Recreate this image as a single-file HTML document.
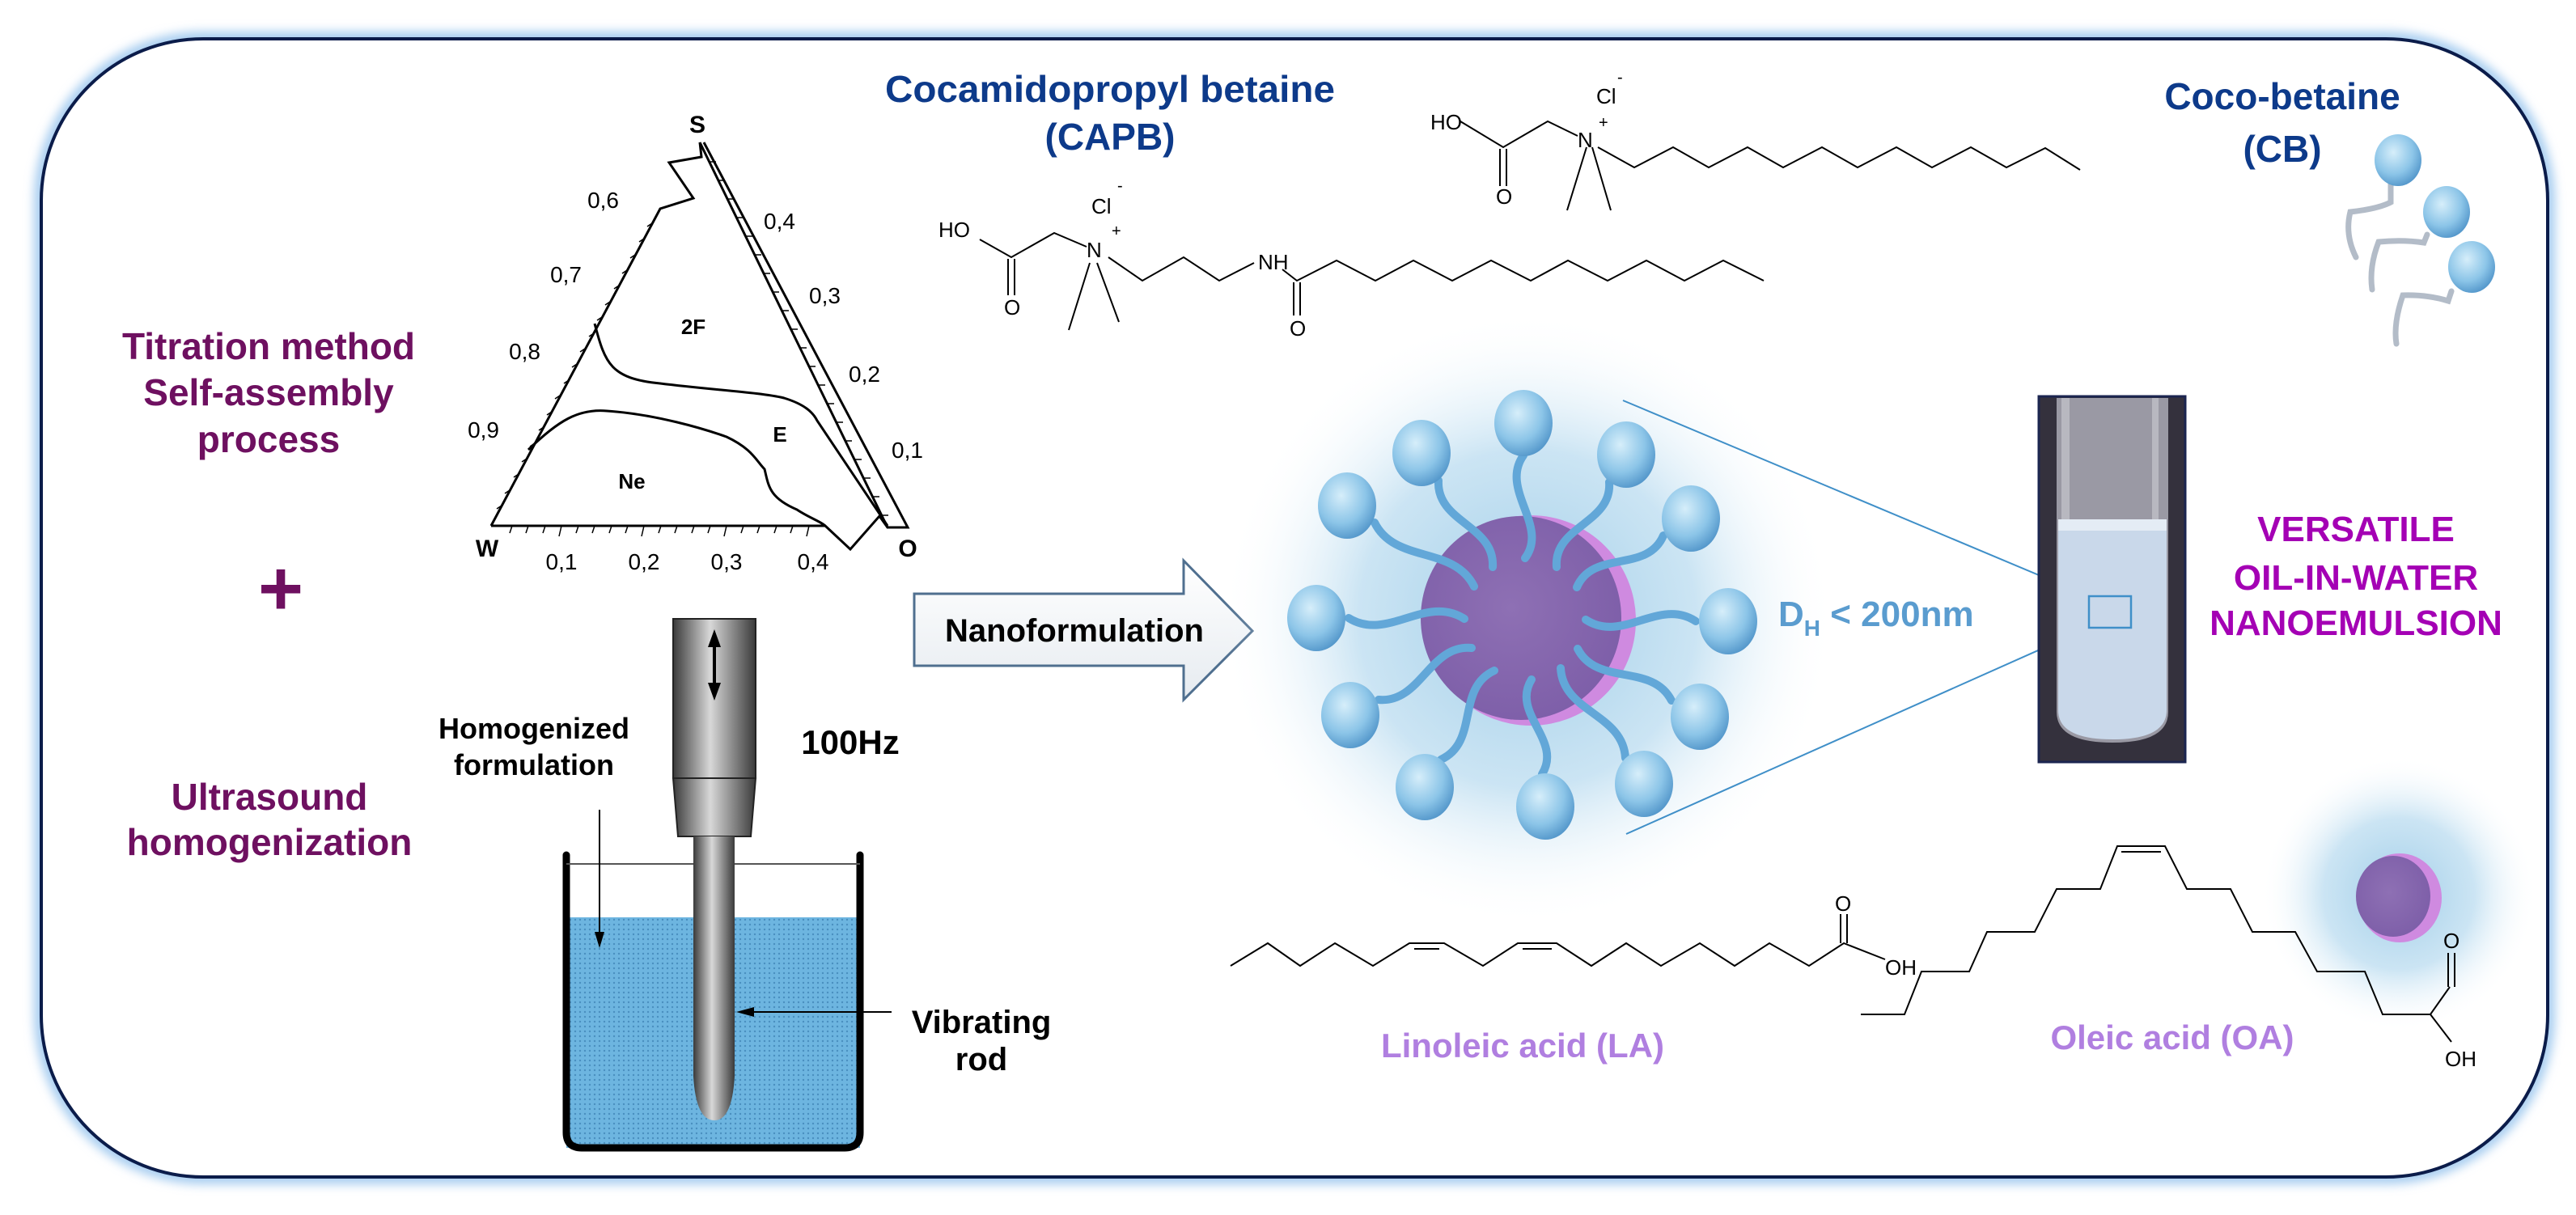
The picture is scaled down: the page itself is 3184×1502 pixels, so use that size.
<!DOCTYPE html>
<html><head><meta charset="utf-8"><style>
html,body{margin:0;padding:0;background:#fff;}
svg{display:block;}
text{font-family:"Liberation Sans",Arial,sans-serif;}
</style></head><body>
<svg width="3184" height="1502" viewBox="0 0 3184 1502" xmlns="http://www.w3.org/2000/svg">
<defs>
<radialGradient id="glow" cx="50%" cy="50%" r="50%">
<stop offset="0" stop-color="#8fc4e4" stop-opacity="0.85"/>
<stop offset="0.55" stop-color="#a9d3ec" stop-opacity="0.6"/>
<stop offset="1" stop-color="#ffffff" stop-opacity="0"/>
</radialGradient>
<radialGradient id="head" cx="40%" cy="35%" r="70%">
<stop offset="0" stop-color="#d6eefa"/>
<stop offset="0.6" stop-color="#8cc5e8"/>
<stop offset="1" stop-color="#4f93c8"/>
</radialGradient>
<radialGradient id="core" cx="45%" cy="45%" r="60%">
<stop offset="0" stop-color="#8e70b4"/>
<stop offset="1" stop-color="#7d5ea8"/>
</radialGradient>
<linearGradient id="metal" x1="0" x2="1" y1="0" y2="0">
<stop offset="0" stop-color="#3a3a3a"/>
<stop offset="0.45" stop-color="#d8d8d8"/>
<stop offset="1" stop-color="#3a3a3a"/>
</linearGradient>
<linearGradient id="arrowfill" x1="0" x2="0" y1="0" y2="1">
<stop offset="0" stop-color="#ffffff"/>
<stop offset="1" stop-color="#e6ebf0"/>
</linearGradient>
<pattern id="dots" width="6" height="6" patternUnits="userSpaceOnUse">
<rect width="6" height="6" fill="#6db5e0"/>
<circle cx="3" cy="3" r="1.2" fill="#4a8fc0"/>
</pattern>
<filter id="blur" x="-20%" y="-20%" width="140%" height="140%"><feGaussianBlur stdDeviation="6"/></filter>
</defs>

<!-- frame -->
<rect x="51" y="48" width="3098" height="1407" rx="200" ry="200" fill="none" stroke="#a7cdf0" stroke-width="18" filter="url(#blur)"/>
<rect x="51" y="48" width="3098" height="1407" rx="200" ry="200" fill="#fff" stroke="#0b1c4a" stroke-width="4"/>

<!-- Left texts -->
<g font-weight="bold" fill="#6e1060" font-size="46" text-anchor="middle">
<text x="332" y="444">Titration method</text>
<text x="332" y="501">Self-assembly</text>
<text x="332" y="559">process</text>
<text x="333" y="1001">Ultrasound</text>
<text x="333" y="1057">homogenization</text>
</g>
<text x="347" y="760" font-size="96" font-weight="bold" fill="#6e1060" text-anchor="middle">+</text>

<!-- Ternary diagram -->
<g stroke="#000" stroke-width="3" fill="none">
<path d="M607 650 L816 258 L857 245 L827 201 L867 194 L865 176"/>
<path d="M865 176 L1097 652 L1122 652 L870 176"/>
<path d="M607 650 L1020 650 L1051 679 L1087 638 L1097 652"/>
<path d="M735 400 C748 450 755 468 816 474 C880 482 940 485 969 492 C995 500 1005 510 1010 520 L1097 650"/>
<path d="M653 556 C690 520 715 505 750 508 C810 512 870 530 898 540 C930 555 935 570 945 580 C950 600 950 615 985 630 C1000 640 1015 645 1020 650"/>
</g>
<g stroke="#000" stroke-width="1.5">
<path d="M620 625 l-6 4 M630 606 l-6 4 M641 586 l-6 4 M651 567 l-6 4 M661 548 l-6 4 M672 528 l-6 4 M682 509 l-6 4 M692 489 l-6 4 M703 470 l-6 4 M713 450 l-6 4 M723 431 l-6 4 M734 412 l-6 4 M744 392 l-6 4 M754 373 l-6 4 M765 353 l-6 4 M775 334 l-6 4 M785 315 l-6 4 M796 295 l-6 4 M806 276 l-6 4"/>
<path d="M877 200 l8 0 M888 223 l8 0 M899 246 l8 0 M910 269 l8 0 M922 292 l8 0 M933 315 l8 0 M944 338 l8 0 M955 361 l8 0 M967 384 l8 0 M978 407 l8 0 M989 430 l8 0 M1000 453 l8 0 M1012 476 l8 0 M1023 499 l8 0 M1034 522 l8 0 M1045 545 l8 0 M1057 568 l8 0 M1068 591 l8 0 M1079 614 l8 0 M1090 637 l8 0"/>
<path d="M633 650 l-3 9 M653 650 l-3 9 M674 650 l-3 9 M694 650 l-3 13 M715 650 l-3 9 M735 650 l-3 9 M756 650 l-3 9 M776 650 l-3 9 M796 650 l-3 13 M817 650 l-3 9 M837 650 l-3 9 M858 650 l-3 9 M878 650 l-3 9 M898 650 l-3 13 M919 650 l-3 9 M939 650 l-3 9 M960 650 l-3 9 M980 650 l-3 9 M1000 650 l-3 13"/>
</g>
<g font-size="28" fill="#000">
<text x="765" y="257" text-anchor="end">0,6</text>
<text x="719" y="349" text-anchor="end">0,7</text>
<text x="668" y="444" text-anchor="end">0,8</text>
<text x="617" y="541" text-anchor="end">0,9</text>
<text x="944" y="283">0,4</text>
<text x="1000" y="375">0,3</text>
<text x="1049" y="472">0,2</text>
<text x="1102" y="566">0,1</text>
<text x="694" y="704" text-anchor="middle">0,1</text>
<text x="796" y="704" text-anchor="middle">0,2</text>
<text x="898" y="704" text-anchor="middle">0,3</text>
<text x="1005" y="704" text-anchor="middle">0,4</text>
</g>
<g font-size="30" font-weight="bold" fill="#000" text-anchor="middle">
<text x="862" y="164">S</text>
<text x="602" y="688">W</text>
<text x="1122" y="688">O</text>
<text x="857" y="413" font-size="26">2F</text>
<text x="964" y="546" font-size="26">E</text>
<text x="781" y="604" font-size="26">Ne</text>
</g>

<!-- Sonicator -->
<rect x="700" y="1134" width="363" height="285" fill="url(#dots)"/>
<path d="M700 1057 L700 1400 Q700 1419 719 1419 L1044 1419 Q1063 1419 1063 1400 L1063 1057" fill="none" stroke="#000" stroke-width="9" stroke-linecap="round"/>
<line x1="700" y1="1068" x2="1063" y2="1068" stroke="#555" stroke-width="2"/>
<rect x="832" y="765" width="102" height="197" fill="url(#metal)" stroke="#222" stroke-width="2"/>
<path d="M832 962 L934 962 L928 1034 L838 1034 Z" fill="url(#metal)" stroke="#222" stroke-width="2"/>
<path d="M857 1034 L908 1034 L908 1330 Q905 1385 883 1385 Q860 1385 857 1330 Z" fill="url(#metal)"/>
<path d="M883 778 L875 800 L891 800 Z M883 866 L875 844 L891 844 Z" fill="#000"/>
<line x1="883" y1="795" x2="883" y2="850" stroke="#000" stroke-width="4"/>
<line x1="741" y1="1001" x2="741" y2="1160" stroke="#000" stroke-width="2"/>
<path d="M741 1172 L735 1152 L747 1152 Z" fill="#000"/>
<line x1="925" y1="1251" x2="1102" y2="1251" stroke="#000" stroke-width="2"/>
<path d="M910 1251 L932 1245 L932 1257 Z" fill="#000"/>
<g font-weight="bold" fill="#000" text-anchor="middle">
<text x="660" y="913" font-size="36">Homogenized</text>
<text x="660" y="958" font-size="36">formulation</text>
<text x="1051" y="932" font-size="42">100Hz</text>
<text x="1213" y="1277" font-size="40">Vibrating</text>
<text x="1213" y="1323" font-size="40">rod</text>
</g>

<!-- Nanoformulation arrow -->
<path d="M1130 734 L1463 734 L1463 693 L1548 780 L1463 865 L1463 823 L1130 823 Z" fill="url(#arrowfill)" stroke="#4f6f8f" stroke-width="3"/>
<text x="1328" y="793" font-size="40" font-weight="bold" text-anchor="middle" fill="#000">Nanoformulation</text>

<!-- titles -->
<g font-weight="bold" fill="#0d3a8a" font-size="46" text-anchor="middle">
<text x="1372" y="126" textLength="556" lengthAdjust="spacingAndGlyphs">Cocamidopropyl betaine</text>
<text x="1372" y="185">(CAPB)</text>
<text x="2821" y="135">Coco-betaine</text>
<text x="2821" y="200">(CB)</text>
</g>

<!-- CAPB structure -->
<g stroke="#000" stroke-width="2" fill="none">
<path d="M1211 296 L1250 318 L1303 288 L1343 305"/>
<path d="M1246 320 L1246 365 M1254 320 L1254 365"/>
<path d="M1347 325 L1321 408 M1356 325 L1383 398"/>
<path d="M1370 318 L1412 347 L1463 318 L1507 347 L1550 325"/>
<path d="M1585 333 L1603 347 L1652 322 L1700 347 L1747 322 L1795 347 L1843 322 L1892 347 L1938 322 L1987 347 L2035 322 L2082 347 L2130 322 L2180 347"/>
<path d="M1599 349 L1599 390 M1607 349 L1607 390"/>
</g>
<g font-size="26" fill="#000">
<text x="1160" y="293">HO</text>
<text x="1343" y="318">N</text>
<text x="1374" y="292" font-size="20">+</text>
<text x="1349" y="264">Cl</text>
<text x="1381" y="236" font-size="20">-</text>
<text x="1555" y="333">NH</text>
<text x="1594" y="415">O</text>
<text x="1241" y="389">O</text>
</g>

<!-- CB structure -->
<g stroke="#000" stroke-width="2" fill="none">
<path d="M1805 150 L1858 182 L1913 150 L1950 168"/>
<path d="M1854 184 L1854 230 M1862 184 L1862 230"/>
<path d="M1961 182 L1937 260 M1968 182 L1991 260"/>
<path d="M1975 182 L2020 207 L2068 182 L2112 207 L2160 182 L2204 207 L2252 182 L2296 207 L2344 182 L2388 207 L2436 182 L2480 207 L2528 183 L2571 210"/>
</g>
<g font-size="26" fill="#000">
<text x="1768" y="160">HO</text>
<text x="1950" y="182">N</text>
<text x="1976" y="158" font-size="20">+</text>
<text x="1973" y="128">Cl</text>
<text x="1999" y="102" font-size="20">-</text>
<text x="1849" y="252">O</text>
</g>

<!-- CB icon -->
<g stroke="#b3bcc8" stroke-width="7" fill="none" stroke-linecap="round">
<path d="M2955 225 L2955 250 Q2940 258 2905 262 Q2898 290 2912 318"/>
<path d="M3000 290 L2996 300 Q2970 296 2940 299 Q2928 330 2932 358"/>
<path d="M3030 360 L3026 372 Q3000 364 2970 365 Q2958 400 2962 425"/>
</g>
<ellipse cx="2964" cy="198" rx="29" ry="32" fill="url(#head)"/>
<ellipse cx="3024" cy="262" rx="29" ry="32" fill="url(#head)"/>
<ellipse cx="3055" cy="330" rx="29" ry="32" fill="url(#head)"/>

<!-- Micelle -->
<circle cx="1888" cy="765" r="380" fill="url(#glow)"/>
<line x1="2006" y1="495" x2="2582" y2="737" stroke="#3f8fc8" stroke-width="2"/>
<line x1="2010" y1="1031" x2="2582" y2="776" stroke="#3f8fc8" stroke-width="2"/>
<ellipse cx="1892" cy="767" rx="130" ry="130" fill="#cf8ae0"/>
<ellipse cx="1880" cy="764" rx="124" ry="126" fill="url(#core)"/>
<g stroke="#62a7d8" stroke-width="10" fill="none" stroke-linecap="round">
<path d="M1883 563 C1853 605 1915 650 1885 690"/>
<path d="M1989 596 C1993 647 1920 650 1924 701"/>
<path d="M1778 594 C1775 646 1848 649 1845 701"/>
<path d="M1699 646 C1724 697 1797 674 1822 725"/>
<path d="M2056 662 C2036 709 1969 679 1949 726"/>
<path d="M1667 764 C1715 794 1762 734 1810 765"/>
<path d="M2096 768 C2051 738 2005 796 1960 766"/>
<path d="M1704 865 C1756 870 1767 796 1819 801"/>
<path d="M2066 866 C2042 819 1974 849 1950 802"/>
<path d="M1781 939 C1829 917 1799 851 1847 829"/>
<path d="M1906 957 C1932 915 1867 882 1893 840"/>
<path d="M2009 937 C2006 882 1932 881 1929 826"/>
</g>
<g fill="url(#head)">
<ellipse cx="1883" cy="523" rx="36" ry="41"/>
<ellipse cx="2010" cy="562" rx="36" ry="41"/>
<ellipse cx="1757" cy="560" rx="36" ry="41"/>
<ellipse cx="1665" cy="625" rx="36" ry="41"/>
<ellipse cx="2090" cy="641" rx="36" ry="41"/>
<ellipse cx="1627" cy="764" rx="36" ry="41"/>
<ellipse cx="2136" cy="768" rx="36" ry="41"/>
<ellipse cx="1669" cy="884" rx="36" ry="41"/>
<ellipse cx="2101" cy="886" rx="36" ry="41"/>
<ellipse cx="1761" cy="973" rx="36" ry="41"/>
<ellipse cx="1910" cy="997" rx="36" ry="41"/>
<ellipse cx="2032" cy="969" rx="36" ry="41"/>
</g>
<text x="2198" y="774" font-size="44" font-weight="bold" fill="#5a9ccf">D<tspan font-size="28" dy="12">H</tspan><tspan dy="-12"> &lt; 200nm</tspan></text>

<!-- Tube photo -->
<rect x="2520" y="490" width="181" height="452" fill="#34313d" stroke="#1b2550" stroke-width="3"/>
<path d="M2542 492 L2542 880 Q2542 918 2611 918 Q2680 918 2680 880 L2680 492 Z" fill="#9a99a4"/>
<rect x="2548" y="492" width="10" height="150" fill="#b8b8c0"/>
<rect x="2660" y="492" width="8" height="150" fill="#b8b8c0"/>
<path d="M2544 642 L2678 642 L2678 878 Q2678 914 2611 914 Q2544 914 2544 878 Z" fill="#c9d8ea"/>
<rect x="2544" y="642" width="134" height="14" fill="#e4ecf5"/>
<rect x="2582" y="737" width="52" height="39" fill="none" stroke="#3f8fc8" stroke-width="2.5"/>

<g font-weight="bold" fill="#a400b4" font-size="44" text-anchor="middle">
<text x="2912" y="669">VERSATILE</text>
<text x="2912" y="729">OIL-IN-WATER</text>
<text x="2912" y="785">NANOEMULSION</text>
</g>

<!-- LA structure -->
<g stroke="#000" stroke-width="2" fill="none">
<path d="M1521 1194 L1567 1166 L1607 1194 L1650 1166 L1697 1194 L1742 1166 L1785 1166 L1833 1194 L1876 1166 L1924 1166 L1967 1194 L2010 1166 L2053 1194 L2101 1166 L2144 1194 L2187 1166 L2236 1194 L2279 1166 L2330 1186"/>
<path d="M1748 1173 L1779 1173 M1882 1173 L1918 1173"/>
<path d="M2275 1166 L2275 1130 M2283 1166 L2283 1130"/>
</g>
<text x="2268" y="1126" font-size="26">O</text>
<text x="2330" y="1205" font-size="26">OH</text>
<text x="1882" y="1307" font-size="42" font-weight="bold" fill="#b07fe0" text-anchor="middle">Linoleic acid (LA)</text>

<!-- OA -->
<circle cx="2965" cy="1105" r="170" fill="url(#glow)"/>
<ellipse cx="2966" cy="1110" rx="52" ry="55" fill="#cf8ae0"/>
<ellipse cx="2958" cy="1108" rx="46" ry="50" fill="url(#core)"/>
<g stroke="#000" stroke-width="2" fill="none">
<path d="M2300 1254 L2354 1254 L2375 1201 L2434 1201 L2456 1152 L2515 1152 L2542 1099 L2596 1099 L2617 1046 L2676 1046 L2703 1099 L2757 1099 L2784 1152 L2837 1152 L2864 1201 L2923 1201 L2945 1254 L3004 1254 L3028 1220"/>
<path d="M2622 1053 L2671 1053"/>
<path d="M3004 1254 L3030 1288"/>
<path d="M3026 1220 L3026 1178 M3034 1220 L3034 1178"/>
</g>
<text x="3020" y="1172" font-size="26">O</text>
<text x="3022" y="1318" font-size="26">OH</text>
<text x="2685" y="1297" font-size="42" font-weight="bold" fill="#b07fe0" text-anchor="middle">Oleic acid (OA)</text>
</svg>
</body></html>
